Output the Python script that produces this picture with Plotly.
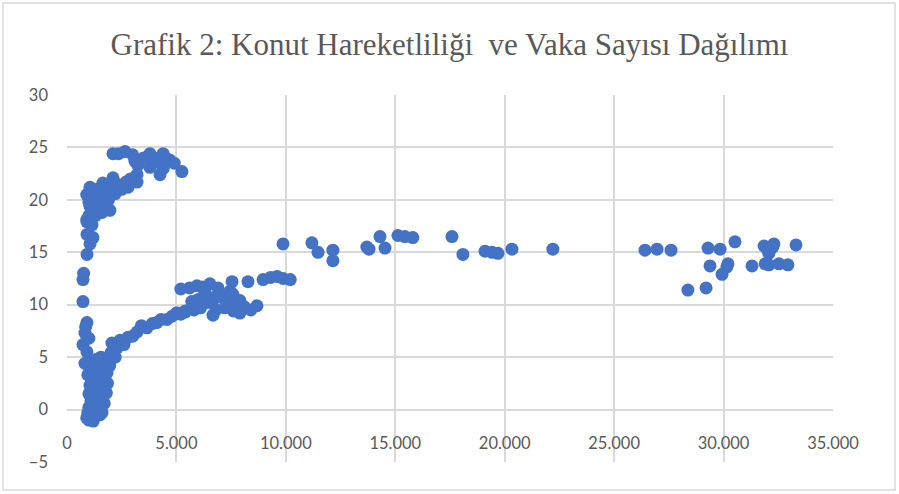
import plotly.graph_objects as go

# Konut hareketliliği (x) and vaka sayısı (y)
housing_mobility = [
    # lower-left V
    900, 1000, 1100, 1200, 1300, 950, 1150, 1350, 1500, 1600,
    1000, 1200, 1400, 1550, 1700, 1100, 1300, 1500, 1650, 1800,
    1000, 1200, 1400, 1600, 1850, 1050, 1300, 1500, 1700, 1830,
    950, 1200, 1400, 1600, 1870, 820, 1100, 1350, 1550, 2000,
    910, 730, 820, 910, 850, 1000,
    # right arm / lower branch
    2050, 2100, 2420, 2790, 3200, 3000, 2600, 2300, 2200, 1950,
    3650, 3400, 3900, 4100, 4570, 4300, 4800, 5030, 5400, 5200, 5800, 6100,
    # middle cluster
    5200, 5600, 5940, 6200, 6530, 6900, 7540, 8270, 8960, 9300, 9600, 9870, 10200,
    5000, 5400, 5800, 6100, 6400, 6700, 7000, 7300, 7130, 7450, 6670, 6800,
    7200, 7600, 7900, 8100, 8400, 8680, 7700, 7900, 6300, 6760, 7580, 5700, 6000, 6400,
    # plateau around 15
    9870, 11190, 11470, 12150, 12150, 13700, 13800, 14300, 14530, 15120, 15440, 15800,
    17590, 18090, 19100, 19420, 19690, 20330, 22200,
    # far right cluster
    26410, 26960, 27600, 28370, 29200, 29290, 29380, 29840, 29930, 30200, 30150, 30520,
    31300, 31850, 32300, 32070, 32070, 32000, 32530, 32940, 33310, 31900, 32250,
    # upper vertical strand
    730, 730, 760, 914, 1051, 1188, 914, 1142, 914, 1000,
    # upper cluster
    900, 1050, 1050, 900, 1500, 1960, 1640, 2100, 2790, 3200, 3200, 3240, 3000, 2650,
    2100, 2350, 1200, 1300, 1400, 1700, 1800, 2000, 2300, 2500, 1100, 1300, 1600, 1200,
    1500, 2200, 1900, 2900, 2700, 1000, 3100,
    3790, 4390, 4700, 4500, 5250, 4250, 3790, 4100, 4400, 4900, 4000, 3500,
]
case_count = [
    -0.8, -1.0, -0.9, -1.1, -0.6, -0.3, -0.4, -0.2, -0.5, -0.3,
    0.2, 0.3, 0.1, 0.5, 0.6, 0.8, 1.0, 1.2, 1.4, 1.6,
    1.5, 1.8, 2.0, 2.2, 2.5, 2.3, 2.7, 3.0, 3.2, 3.5,
    3.3, 3.6, 3.9, 4.1, 4.4, 4.4, 4.6, 4.8, 5.0, 5.4,
    5.5, 6.2, 7.3, 8.3, 7.9, 6.8,
    6.35, 5.4, 6.6, 6.9, 7.4, 7.0, 6.2, 5.9, 5.0, 4.2,
    7.8, 8.0, 8.2, 8.3, 8.6, 8.6, 8.9, 9.2, 9.3, 9.1, 9.5, 9.7,
    11.5, 11.6, 11.8, 11.7, 12.0, 11.6, 12.2, 12.2, 12.4, 12.6, 12.7, 12.5, 12.4,
    9.2, 9.4, 9.6, 9.9, 10.2, 10.5, 10.8, 10.6, 10.7, 11.3, 9.0, 9.5,
    9.7, 9.4, 9.2, 9.8, 9.5, 9.9, 10.3, 10.4, 11.2, 10.7, 11.0, 10.3, 10.5, 10.8,
    15.8, 15.9, 15.0, 15.2, 14.2, 15.5, 15.3, 16.5, 15.4, 16.6, 16.5, 16.4,
    16.5, 14.8, 15.1, 15.0, 14.9, 15.3, 15.3,
    15.2, 15.3, 15.2, 11.4, 11.6, 15.4, 13.7, 15.3, 12.9, 13.9, 13.6, 16.0,
    13.7, 15.6, 15.8, 14.9, 13.8, 15.3, 13.9, 13.8, 15.7, 13.9, 15.5,
    10.3, 12.4, 13.0, 14.8, 15.8, 16.4, 16.7, 17.6, 17.9, 18.5,
    20.5, 21.2, 19.4, 18.1, 19.7, 19.0, 21.6, 22.1, 21.2, 21.7, 22.4, 23.3, 24.3, 24.6,
    24.4, 24.4, 20.0, 20.8, 19.2, 20.3, 20.9, 21.3, 21.5, 21.0, 18.6, 18.5, 18.8, 21.0,
    21.1, 20.6, 20.0, 22.0, 21.7, 19.8, 23.7,
    24.4, 24.4, 23.8, 24.0, 22.7, 22.4, 23.1, 23.6, 23.0, 23.5, 24.0, 24.0,
]

x_tick_values = [0, 5000, 10000, 15000, 20000, 25000, 30000, 35000]
x_tick_labels = ["0", "5.000", "10.000", "15.000", "20.000", "25.000", "30.000", "35.000"]
y_tick_values = [-5, 0, 5, 10, 15, 20, 25, 30]

title_text = "Grafik 2: Konut Hareketliliği  ve Vaka Sayısı Dağılımı"

grid = "#D9D9D9"
label_color = "#595959"

fig = go.Figure(
    go.Scatter(
        x=housing_mobility, y=case_count, mode="markers",
        marker=dict(size=13, color="#4472C4", line=dict(width=0)),
        hoverinfo="x+y",
    )
)

fig.update_layout(
    width=899, height=494,
    margin=dict(l=67, r=66, t=95, b=32),
    paper_bgcolor="white", plot_bgcolor="white",
    showlegend=False,
    title=dict(text=title_text, x=0.5, xanchor="center", y=0.91, yanchor="middle",
               font=dict(family="Liberation Serif", size=31, color=label_color)),
    xaxis=dict(
        range=[0, 35000], tickvals=x_tick_values, ticktext=x_tick_labels,
        showgrid=True, gridcolor=grid, gridwidth=1.5,
        zeroline=False, showline=False, ticks="",
        anchor="free", position=5 / 35, ticklabelstandoff=22,
        tickfont=dict(family="Lato", size=16.5, color=label_color),
    ),
    yaxis=dict(
        range=[-5, 30], tickvals=y_tick_values,
        showgrid=True, gridcolor=grid, gridwidth=1.5,
        zeroline=True, zerolinecolor=grid, zerolinewidth=1.5,
        showline=False, ticks="", ticklabelstandoff=18,
        tickfont=dict(family="Lato", size=16.5, color=label_color),
    ),
    shapes=[dict(type="rect", xref="paper", yref="paper",
                 x0=-0.0836, x1=1.081, y0=-0.0763, y1=1.2507,
                 line=dict(color=grid, width=1.5), fillcolor="rgba(0,0,0,0)", layer="below")],
)

fig.write_html(
    "out.html",
    config={"displayModeBar": False},
    post_script="document.body.style.margin='0';document.body.style.overflow='hidden';",
)
